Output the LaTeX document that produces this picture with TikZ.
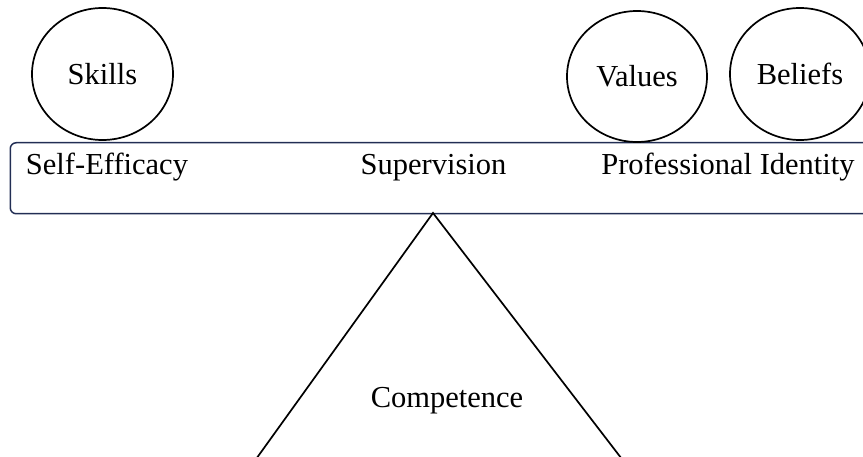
\documentclass[tikz,border=0pt]{standalone}
\usepackage{fontspec}
\setmainfont{Liberation Serif}
\usetikzlibrary{shapes.geometric}
\definecolor{barline}{RGB}{34,46,84}
\begin{document}
\begin{tikzpicture}[x=1pt,y=-1pt,
  txt/.style={font=\fontsize{30.5}{36}\selectfont, inner sep=0pt},
  bubble/.style={draw=black, line width=1.7pt, ellipse, inner sep=0pt,
    minimum width=141pt, minimum height=132pt, font=\fontsize{30.5}{36}\selectfont},
  beam/.style={draw=barline, line width=1.5pt, rounded corners=6pt, inner sep=0pt,
    minimum height=71pt, minimum width=900pt, anchor=north west},
  side/.style={draw=black, line width=1.7pt}]
\clip (0,0) rectangle (863,457);
% the beam
\node[beam] (bar) at (9.5,142) {};
\node[txt, anchor=base] (selfeff) at (107,174.5) {Self-Efficacy};
\node[txt, anchor=base] (superv) at (433.5,174.5) {Supervision};
\node[txt, anchor=base] (profid) at (728,174.5) {Professional Identity};
% the bubbles resting on it
\node[bubble] (skills) at (102.5,74) {Skills};
\node[bubble, minimum width=140pt, minimum height=131pt] (values) at (637,76.5) {Values};
\node[bubble, minimum width=140pt] (beliefs) at (800,74) {Beliefs};
% the fulcrum
\coordinate (apex) at (433,213);
\coordinate (footl) at (241,480);
\coordinate (footr) at (638,480);
\draw[side] (footl) -- (apex) -- (footr);
\node[txt, anchor=base] (comp) at (447,407) {Competence};
\end{tikzpicture}
\end{document}
